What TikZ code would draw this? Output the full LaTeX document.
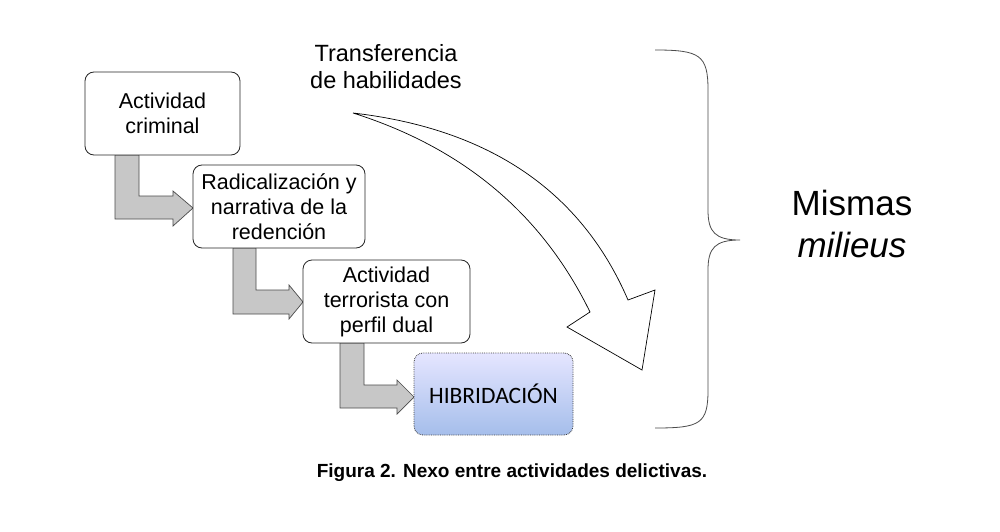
\documentclass[tikz,border=0pt]{standalone}
\usepackage{fontspec}
\setmainfont{Liberation Sans}
\newfontfamily\carl{Carlito}
\begin{document}
\begin{tikzpicture}[x=1pt,y=-1pt,
  box/.style={draw=black!85,rounded corners=9pt,fill=white,align=center,font=\fontsize{21.5}{25}\selectfont,line width=0.8pt,inner sep=0pt},
  garrow/.style={draw=black!70,fill=black!22,line width=0.7pt}]
\useasboundingbox (0,0) rectangle (1000,532);
\fill[white] (0,0) rectangle (1000,532);
% bent arrows
\draw[garrow] (115,155) -- (139,155) -- (139,196) -- (173,196) -- (173,191) -- (193,208) -- (173,226) -- (173,219) -- (115,219) -- cycle;
\draw[garrow] (233,248) -- (256,248) -- (256,290) -- (289,290) -- (289,285) -- (303,302) -- (289,319) -- (289,314) -- (233,314) -- cycle;
\draw[garrow] (340,343) -- (364,343) -- (364,385) -- (397,385) -- (397,380) -- (414,397) -- (397,414) -- (397,408) -- (340,408) -- cycle;
% boxes
\node[box,minimum width=155pt,minimum height=83pt] (b1) at (162.5,113.5) {Actividad\\criminal};
\node[box,minimum width=172pt,minimum height=83pt] (b2) at (279,206.5) {Radicalizaci\'on y\\narrativa de la\\redenci\'on};
\node[box,minimum width=167pt,minimum height=83pt] (b3) at (386.5,301.5) {Actividad\\terrorista con\\perfil dual};
\node[draw=black!75,densely dotted,rounded corners=9pt,line width=0.8pt,top color=blue!10!white,bottom color={rgb,255:red,165;green,190;blue,235},minimum width=159pt,minimum height=82pt,font=\carl\fontsize{23.5}{26}\selectfont] (b4) at (493.5,394) {HIBRIDACI\'ON};
% curved arrow
\draw[line width=0.7pt,fill=white] (353,113) .. controls (500,130) and (585,200) .. (628,300) -- (655,290) -- (642,370) -- (567,327) -- (590,312) .. controls (545,220) and (470,150) .. (353,113) -- cycle;
\node[align=center,font=\fontsize{23.5}{27}\selectfont] (t) at (386,67) {Transferencia\\de habilidades};
% brace
\draw[black!70,line width=0.8pt] (655,50) .. controls (700,50) and (708,55) .. (708,90) -- (708,210) .. controls (708,232) and (715,240) .. (740,240) .. controls (715,240) and (708,248) .. (708,270) -- (708,390) .. controls (708,424) and (700,428) .. (655,428);
\node[align=center,font=\fontsize{35}{42}\selectfont] (m) at (852,224) {Mismas\\\textit{milieus}};
\node[font=\bfseries\fontsize{19}{21}\selectfont] (cap) at (512,473) {Figura 2. Nexo entre actividades delictivas.};
\end{tikzpicture}
\end{document}
